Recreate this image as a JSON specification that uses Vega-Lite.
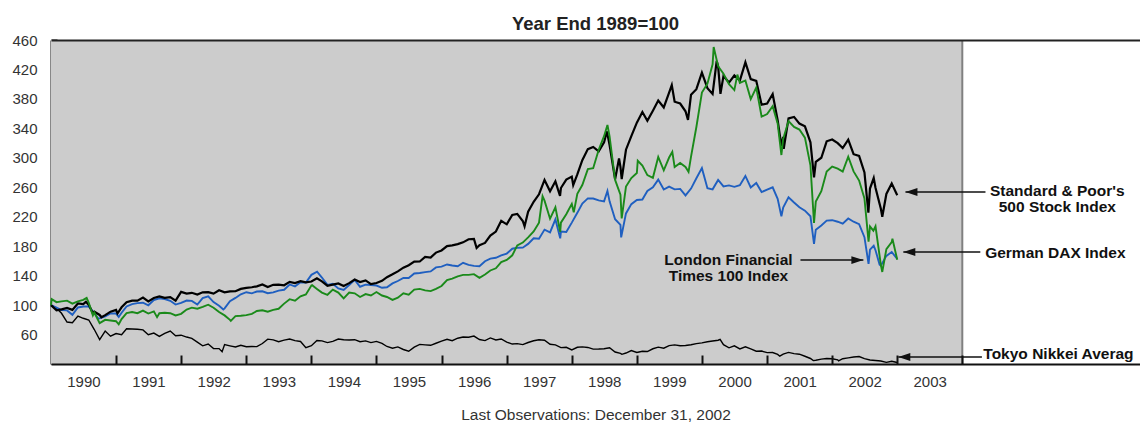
{
"$schema":"https://vega.github.io/schema/vega-lite/v6.json",
"width":1089,"height":324,
"autosize":{"type":"pad"},
"padding":{"left":11,"top":14,"right":0,"bottom":0},
"background":"white",
"title":{"text":"Year End 1989=100","fontSize":18.5,"fontWeight":"bold","color":"#222","anchor":"middle","offset":0,"font":"Liberation Sans"},
"config":{"view":{"stroke":null},"font":"Liberation Sans",
 "axisY":{"tickSize":-6,"tickWidth":2,"tickColor":"#111","domainColor":"#111","domainWidth":2,"labelFontSize":15,"labelColor":"#333","labelPadding":20,"grid":false,"labelFlush":false,"labelOverlap":false,"zindex":1}},
"datasets":{
"sp":[{"d":"1990-01-01","v":100},{"d":"1990-02-01","v":93.0},{"d":"1990-03-01","v":94.2},{"d":"1990-04-01","v":96.1},{"d":"1990-05-01","v":93.5},{"d":"1990-06-01","v":102.2},{"d":"1990-07-01","v":101.3},{"d":"1990-07-16","v":104.4},{"d":"1990-08-01","v":100.3},{"d":"1990-08-24","v":88.9},{"d":"1990-09-01","v":91.0},{"d":"1990-10-01","v":86.6},{"d":"1990-10-11","v":83.5},{"d":"1990-11-01","v":86.3},{"d":"1990-12-01","v":91.1},{"d":"1991-01-01","v":93.4},{"d":"1991-01-09","v":88.6},{"d":"1991-02-01","v":97.0},{"d":"1991-03-01","v":103.9},{"d":"1991-04-01","v":106.1},{"d":"1991-05-01","v":106.1},{"d":"1991-06-01","v":110.2},{"d":"1991-07-01","v":105.1},{"d":"1991-08-01","v":109.6},{"d":"1991-09-01","v":111.8},{"d":"1991-10-01","v":109.8},{"d":"1991-11-01","v":110.9},{"d":"1991-12-01","v":106.0},{"d":"1992-01-01","v":118.0},{"d":"1992-02-01","v":115.6},{"d":"1992-03-01","v":116.7},{"d":"1992-04-01","v":114.4},{"d":"1992-05-01","v":117.4},{"d":"1992-06-01","v":117.6},{"d":"1992-07-01","v":115.5},{"d":"1992-08-01","v":120.1},{"d":"1992-09-01","v":117.3},{"d":"1992-10-01","v":118.6},{"d":"1992-11-01","v":118.8},{"d":"1992-12-01","v":122.0},{"d":"1993-01-01","v":123.3},{"d":"1993-02-01","v":124.2},{"d":"1993-03-01","v":125.5},{"d":"1993-04-01","v":127.9},{"d":"1993-05-01","v":124.6},{"d":"1993-06-01","v":127.5},{"d":"1993-07-01","v":127.7},{"d":"1993-08-01","v":126.9},{"d":"1993-09-01","v":131.6},{"d":"1993-10-01","v":129.9},{"d":"1993-11-01","v":132.4},{"d":"1993-12-01","v":130.8},{"d":"1994-01-01","v":132.0},{"d":"1994-02-01","v":136.4},{"d":"1994-03-01","v":132.2},{"d":"1994-04-01","v":126.3},{"d":"1994-05-01","v":127.8},{"d":"1994-06-01","v":129.3},{"d":"1994-07-01","v":125.8},{"d":"1994-08-01","v":129.8},{"d":"1994-09-01","v":134.6},{"d":"1994-10-01","v":131.3},{"d":"1994-11-01","v":133.6},{"d":"1994-12-01","v":128.6},{"d":"1995-01-01","v":130.0},{"d":"1995-02-01","v":132.9},{"d":"1995-03-01","v":137.9},{"d":"1995-04-01","v":141.8},{"d":"1995-05-01","v":145.8},{"d":"1995-06-01","v":150.8},{"d":"1995-07-01","v":154.2},{"d":"1995-08-01","v":159.1},{"d":"1995-09-01","v":159.2},{"d":"1995-10-01","v":165.3},{"d":"1995-11-01","v":164.6},{"d":"1995-12-01","v":171.3},{"d":"1996-01-01","v":174.2},{"d":"1996-02-01","v":180.1},{"d":"1996-03-01","v":181.2},{"d":"1996-04-01","v":182.8},{"d":"1996-05-01","v":185.2},{"d":"1996-06-01","v":189.4},{"d":"1996-07-01","v":189.8},{"d":"1996-07-16","v":177.6},{"d":"1996-08-01","v":181.3},{"d":"1996-09-01","v":184.4},{"d":"1996-10-01","v":194.5},{"d":"1996-11-01","v":199.8},{"d":"1996-12-01","v":214.4},{"d":"1997-01-01","v":209.7},{"d":"1997-02-01","v":222.5},{"d":"1997-03-01","v":223.9},{"d":"1997-04-01","v":214.2},{"d":"1997-04-11","v":207},{"d":"1997-05-01","v":226.8},{"d":"1997-06-01","v":240.3},{"d":"1997-07-01","v":250.5},{"d":"1997-08-01","v":270.0},{"d":"1997-09-01","v":254.5},{"d":"1997-10-01","v":268.1},{"d":"1997-10-27","v":248.2},{"d":"1997-11-01","v":259.0},{"d":"1997-12-01","v":270.4},{"d":"1998-01-01","v":274.5},{"d":"1998-01-09","v":263},{"d":"1998-02-01","v":277.5},{"d":"1998-03-01","v":296.8},{"d":"1998-04-01","v":311.8},{"d":"1998-05-01","v":314.8},{"d":"1998-06-01","v":308.7},{"d":"1998-07-01","v":320.9},{"d":"1998-07-17","v":335.9},{"d":"1998-08-01","v":317.3},{"d":"1998-09-01","v":270.8},{"d":"1998-09-23","v":299},{"d":"1998-10-01","v":287.8},{"d":"1998-10-08","v":271.2},{"d":"1998-11-01","v":311.0},{"d":"1998-12-01","v":329.4},{"d":"1999-01-01","v":347.8},{"d":"1999-02-01","v":362.2},{"d":"1999-03-01","v":350.3},{"d":"1999-04-01","v":364.0},{"d":"1999-05-01","v":377.9},{"d":"1999-06-01","v":368.4},{"d":"1999-07-01","v":388.6},{"d":"1999-07-16","v":398.7},{"d":"1999-08-01","v":376.2},{"d":"1999-09-01","v":373.7},{"d":"1999-10-01","v":363.2},{"d":"1999-10-15","v":351.4},{"d":"1999-11-01","v":385.8},{"d":"1999-12-01","v":393.2},{"d":"2000-01-01","v":415.8},{"d":"2000-02-01","v":394.5},{"d":"2000-03-01","v":386.7},{"d":"2000-03-24","v":431.6},{"d":"2000-04-01","v":424.3},{"d":"2000-04-14","v":386.8},{"d":"2000-05-01","v":411.0},{"d":"2000-06-01","v":402.2},{"d":"2000-07-01","v":411.8},{"d":"2000-08-01","v":405.0},{"d":"2000-09-01","v":429.7},{"d":"2000-10-01","v":406.8},{"d":"2000-11-01","v":404.5},{"d":"2000-12-01","v":372.2},{"d":"2001-01-01","v":373.6},{"d":"2001-02-01","v":386.6},{"d":"2001-03-01","v":351.0},{"d":"2001-03-22","v":316.2},{"d":"2001-04-01","v":328.4},{"d":"2001-04-04","v":312.2},{"d":"2001-05-01","v":353.6},{"d":"2001-06-01","v":355.6},{"d":"2001-07-01","v":346.5},{"d":"2001-08-01","v":342.8},{"d":"2001-09-01","v":321.0},{"d":"2001-09-21","v":273.4},{"d":"2001-10-01","v":294.6},{"d":"2001-11-01","v":300.1},{"d":"2001-12-01","v":322.4},{"d":"2002-01-01","v":324.9},{"d":"2002-02-01","v":319.9},{"d":"2002-03-01","v":313.3},{"d":"2002-04-01","v":324.6},{"d":"2002-05-01","v":304.9},{"d":"2002-06-01","v":302.6},{"d":"2002-07-01","v":280.2},{"d":"2002-07-23","v":225.6},{"d":"2002-08-01","v":258.2},{"d":"2002-08-22","v":272.5},{"d":"2002-09-01","v":259.4},{"d":"2002-10-01","v":230.7},{"d":"2002-10-09","v":219.9},{"d":"2002-11-01","v":250.9},{"d":"2002-12-01","v":265.0},{"d":"2003-01-01","v":249.1}],
"dax":[{"d":"1990-01-01","v":100},{"d":"1990-01-05","v":108},{"d":"1990-02-01","v":104},{"d":"1990-03-01","v":105},{"d":"1990-04-01","v":106},{"d":"1990-05-01","v":102},{"d":"1990-06-01","v":105},{"d":"1990-07-01","v":107},{"d":"1990-07-20","v":109.8},{"d":"1990-08-01","v":103},{"d":"1990-08-24","v":86},{"d":"1990-09-01","v":90},{"d":"1990-10-01","v":75.5},{"d":"1990-11-01","v":80},{"d":"1990-12-01","v":79},{"d":"1991-01-01","v":78.1},{"d":"1991-01-16","v":73.9},{"d":"1991-02-01","v":81},{"d":"1991-03-01","v":89},{"d":"1991-04-01","v":90.5},{"d":"1991-05-01","v":89},{"d":"1991-06-01","v":92.5},{"d":"1991-07-01","v":88.5},{"d":"1991-08-01","v":91.5},{"d":"1991-08-19","v":83.6},{"d":"1991-09-01","v":89},{"d":"1991-10-01","v":89.5},{"d":"1991-11-01","v":89},{"d":"1991-12-01","v":86},{"d":"1992-01-01","v":88.1},{"d":"1992-02-01","v":94},{"d":"1992-03-01","v":96.5},{"d":"1992-04-01","v":95},{"d":"1992-05-01","v":97.5},{"d":"1992-06-01","v":100.5},{"d":"1992-07-01","v":96.5},{"d":"1992-08-01","v":90.5},{"d":"1992-09-01","v":86},{"d":"1992-10-01","v":80},{"d":"1992-10-06","v":78.5},{"d":"1992-11-01","v":85},{"d":"1992-12-01","v":85.5},{"d":"1993-01-01","v":86.3},{"d":"1993-02-01","v":88},{"d":"1993-03-01","v":92},{"d":"1993-04-01","v":93},{"d":"1993-05-01","v":91},{"d":"1993-06-01","v":93.5},{"d":"1993-07-01","v":95},{"d":"1993-08-01","v":102},{"d":"1993-09-01","v":108},{"d":"1993-10-01","v":106},{"d":"1993-11-01","v":112},{"d":"1993-12-01","v":114.5},{"d":"1994-01-01","v":126.6},{"d":"1994-01-05","v":127},{"d":"1994-02-01","v":122},{"d":"1994-03-01","v":117},{"d":"1994-04-01","v":114},{"d":"1994-05-01","v":121},{"d":"1994-06-01","v":117},{"d":"1994-07-01","v":109},{"d":"1994-08-01","v":117},{"d":"1994-09-01","v":116},{"d":"1994-10-01","v":111},{"d":"1994-11-01","v":115},{"d":"1994-12-01","v":113},{"d":"1995-01-01","v":117.7},{"d":"1995-02-01","v":113},{"d":"1995-03-01","v":111},{"d":"1995-04-01","v":107},{"d":"1995-05-01","v":110},{"d":"1995-06-01","v":116},{"d":"1995-07-01","v":114},{"d":"1995-08-01","v":121},{"d":"1995-09-01","v":122},{"d":"1995-10-01","v":120},{"d":"1995-11-01","v":119},{"d":"1995-12-01","v":122},{"d":"1996-01-01","v":125.9},{"d":"1996-02-01","v":134},{"d":"1996-03-01","v":136},{"d":"1996-04-01","v":139},{"d":"1996-05-01","v":141},{"d":"1996-06-01","v":141},{"d":"1996-07-01","v":142},{"d":"1996-08-01","v":137},{"d":"1996-09-01","v":141.5},{"d":"1996-10-01","v":147},{"d":"1996-11-01","v":150},{"d":"1996-12-01","v":158.5},{"d":"1997-01-01","v":161.3},{"d":"1997-02-01","v":167.6},{"d":"1997-03-01","v":181},{"d":"1997-04-01","v":184.9},{"d":"1997-05-01","v":192},{"d":"1997-06-01","v":200},{"d":"1997-07-01","v":212},{"d":"1997-07-21","v":247.8},{"d":"1997-08-01","v":241.9},{"d":"1997-09-01","v":217.3},{"d":"1997-10-01","v":232.8},{"d":"1997-10-28","v":199.2},{"d":"1997-11-01","v":212},{"d":"1997-12-01","v":223.5},{"d":"1998-01-01","v":237.4},{"d":"1998-01-12","v":226},{"d":"1998-02-01","v":251},{"d":"1998-03-01","v":263},{"d":"1998-04-01","v":284.7},{"d":"1998-05-01","v":285.8},{"d":"1998-06-01","v":311},{"d":"1998-07-01","v":329.4},{"d":"1998-07-20","v":344.7},{"d":"1998-08-01","v":329},{"d":"1998-09-01","v":270},{"d":"1998-10-01","v":249.9},{"d":"1998-10-08","v":217.6},{"d":"1998-11-01","v":260.9},{"d":"1998-12-01","v":272.6},{"d":"1999-01-01","v":279.4},{"d":"1999-01-06","v":296},{"d":"1999-02-01","v":289.5},{"d":"1999-03-01","v":276.5},{"d":"1999-04-01","v":272.8},{"d":"1999-05-01","v":301.2},{"d":"1999-06-01","v":283.1},{"d":"1999-07-01","v":300.4},{"d":"1999-07-19","v":308},{"d":"1999-08-01","v":287.5},{"d":"1999-09-01","v":292.9},{"d":"1999-10-01","v":287.6},{"d":"1999-10-18","v":281},{"d":"1999-11-01","v":301.5},{"d":"1999-12-01","v":341.9},{"d":"2000-01-01","v":388.6},{"d":"2000-02-01","v":400.6},{"d":"2000-03-01","v":427},{"d":"2000-03-07","v":450.5},{"d":"2000-04-01","v":424.4},{"d":"2000-05-01","v":414.1},{"d":"2000-06-01","v":400},{"d":"2000-07-01","v":392},{"d":"2000-07-18","v":413},{"d":"2000-08-01","v":401.7},{"d":"2000-09-01","v":405},{"d":"2000-10-01","v":379.7},{"d":"2000-11-01","v":395.3},{"d":"2000-12-01","v":355.9},{"d":"2001-01-01","v":359.4},{"d":"2001-02-01","v":370},{"d":"2001-03-01","v":346.7},{"d":"2001-03-22","v":303.8},{"d":"2001-04-01","v":325.6},{"d":"2001-05-01","v":350},{"d":"2001-06-01","v":342},{"d":"2001-07-01","v":338.4},{"d":"2001-08-01","v":327.4},{"d":"2001-09-01","v":289.8},{"d":"2001-09-21","v":211.5},{"d":"2001-10-01","v":240.6},{"d":"2001-11-01","v":254.6},{"d":"2001-12-01","v":281.5},{"d":"2002-01-01","v":288.2},{"d":"2002-02-01","v":285.3},{"d":"2002-03-01","v":281.4},{"d":"2002-04-01","v":301.5},{"d":"2002-05-01","v":281.6},{"d":"2002-06-01","v":269.1},{"d":"2002-07-01","v":244.8},{"d":"2002-07-24","v":186},{"d":"2002-08-01","v":206.7},{"d":"2002-08-20","v":201},{"d":"2002-09-01","v":207},{"d":"2002-10-01","v":154.7},{"d":"2002-10-09","v":145},{"d":"2002-11-01","v":176},{"d":"2002-12-01","v":185.4},{"d":"2002-12-05","v":190},{"d":"2003-01-01","v":161.6}],
"ftse":[{"d":"1990-01-01","v":100},{"d":"1990-02-01","v":96.5},{"d":"1990-03-01","v":93.1},{"d":"1990-04-01","v":92.8},{"d":"1990-05-01","v":86.8},{"d":"1990-06-01","v":96.8},{"d":"1990-07-01","v":98.0},{"d":"1990-08-01","v":98.0},{"d":"1990-09-01","v":89.3},{"d":"1990-09-24","v":81.5},{"d":"1990-10-01","v":82.1},{"d":"1990-11-01","v":84.6},{"d":"1990-12-01","v":88.7},{"d":"1991-01-01","v":88.5},{"d":"1991-01-16","v":83.9},{"d":"1991-02-01","v":89.6},{"d":"1991-03-01","v":98.2},{"d":"1991-04-01","v":101.4},{"d":"1991-05-01","v":102.6},{"d":"1991-06-01","v":103.2},{"d":"1991-07-01","v":99.7},{"d":"1991-08-01","v":106.8},{"d":"1991-09-01","v":109.2},{"d":"1991-10-01","v":108.2},{"d":"1991-11-01","v":105.9},{"d":"1991-12-01","v":100.7},{"d":"1992-01-01","v":102.9},{"d":"1992-02-01","v":106.2},{"d":"1992-03-01","v":105.7},{"d":"1992-04-01","v":100.7},{"d":"1992-05-01","v":109.5},{"d":"1992-06-01","v":111.8},{"d":"1992-07-01","v":104.1},{"d":"1992-08-01","v":99.1},{"d":"1992-08-25","v":94.1},{"d":"1992-09-01","v":95.5},{"d":"1992-10-01","v":105.4},{"d":"1992-11-01","v":109.7},{"d":"1992-12-01","v":114.7},{"d":"1993-01-01","v":117.5},{"d":"1993-02-01","v":115.9},{"d":"1993-03-01","v":118.4},{"d":"1993-04-01","v":118.8},{"d":"1993-05-01","v":116.1},{"d":"1993-06-01","v":117.2},{"d":"1993-07-01","v":119.7},{"d":"1993-08-01","v":120.8},{"d":"1993-09-01","v":128.0},{"d":"1993-10-01","v":125.4},{"d":"1993-11-01","v":130.9},{"d":"1993-12-01","v":130.7},{"d":"1994-01-01","v":141.1},{"d":"1994-02-02","v":145.3},{"d":"1994-03-01","v":137.4},{"d":"1994-04-01","v":127.4},{"d":"1994-05-01","v":129.0},{"d":"1994-06-01","v":122.6},{"d":"1994-07-01","v":120.5},{"d":"1994-08-01","v":127.2},{"d":"1994-09-01","v":134.2},{"d":"1994-10-01","v":124.9},{"d":"1994-11-01","v":127.8},{"d":"1994-12-01","v":127.2},{"d":"1995-01-01","v":126.6},{"d":"1995-02-01","v":123.5},{"d":"1995-03-01","v":124.2},{"d":"1995-04-01","v":129.5},{"d":"1995-05-01","v":132.7},{"d":"1995-06-01","v":137.0},{"d":"1995-07-01","v":136.8},{"d":"1995-08-01","v":142.9},{"d":"1995-09-01","v":143.5},{"d":"1995-10-01","v":144.8},{"d":"1995-11-01","v":145.7},{"d":"1995-12-01","v":151.2},{"d":"1996-01-01","v":152.3},{"d":"1996-02-01","v":155.2},{"d":"1996-03-01","v":153.8},{"d":"1996-04-01","v":152.7},{"d":"1996-05-01","v":157.5},{"d":"1996-06-01","v":154.7},{"d":"1996-07-01","v":153.2},{"d":"1996-08-01","v":152.8},{"d":"1996-09-01","v":159.6},{"d":"1996-10-01","v":163.2},{"d":"1996-11-01","v":164.2},{"d":"1996-12-01","v":167.5},{"d":"1997-01-01","v":170.0},{"d":"1997-02-01","v":176.5},{"d":"1997-03-01","v":177.8},{"d":"1997-04-01","v":178.0},{"d":"1997-05-01","v":183.1},{"d":"1997-06-01","v":190.7},{"d":"1997-07-01","v":190.0},{"d":"1997-08-01","v":202.5},{"d":"1997-09-01","v":198.8},{"d":"1997-10-01","v":216.5},{"d":"1997-10-28","v":190.6},{"d":"1997-11-01","v":199.9},{"d":"1997-12-01","v":199.4},{"d":"1998-01-01","v":212.0},{"d":"1998-02-01","v":225.3},{"d":"1998-03-01","v":238.0},{"d":"1998-04-01","v":244.9},{"d":"1998-05-01","v":244.7},{"d":"1998-06-01","v":242.3},{"d":"1998-07-01","v":240.8},{"d":"1998-07-20","v":255.0},{"d":"1998-08-01","v":240.9},{"d":"1998-09-01","v":216.7},{"d":"1998-10-01","v":209.0},{"d":"1998-10-05","v":191.9},{"d":"1998-11-01","v":224.5},{"d":"1998-12-01","v":237.1},{"d":"1999-01-01","v":242.8},{"d":"1999-02-01","v":243.4},{"d":"1999-03-01","v":254.9},{"d":"1999-04-01","v":259.9},{"d":"1999-05-01","v":270.4},{"d":"1999-06-01","v":257.0},{"d":"1999-07-01","v":260.8},{"d":"1999-08-01","v":257.2},{"d":"1999-09-01","v":257.8},{"d":"1999-10-01","v":248.9},{"d":"1999-11-01","v":258.2},{"d":"1999-12-01","v":272.3},{"d":"2000-01-01","v":286.0},{"d":"2000-02-01","v":258.7},{"d":"2000-03-01","v":257.2},{"d":"2000-04-01","v":269.9},{"d":"2000-05-01","v":261.1},{"d":"2000-06-01","v":262.5},{"d":"2000-07-01","v":260.6},{"d":"2000-08-01","v":262.7},{"d":"2000-09-01","v":275.4},{"d":"2000-10-01","v":259.8},{"d":"2000-11-01","v":265.8},{"d":"2000-12-01","v":253.5},{"d":"2001-01-01","v":256.8},{"d":"2001-02-01","v":259.9},{"d":"2001-03-01","v":244.3},{"d":"2001-03-22","v":220.6},{"d":"2001-04-01","v":232.6},{"d":"2001-05-01","v":246.3},{"d":"2001-06-01","v":239.3},{"d":"2001-07-01","v":232.9},{"d":"2001-08-01","v":228.2},{"d":"2001-09-01","v":220.6},{"d":"2001-09-21","v":183.0},{"d":"2001-10-01","v":202.4},{"d":"2001-11-01","v":208.1},{"d":"2001-12-01","v":214.8},{"d":"2002-01-01","v":215.3},{"d":"2002-02-01","v":213.2},{"d":"2002-03-01","v":210.5},{"d":"2002-04-01","v":217.6},{"d":"2002-05-01","v":213.2},{"d":"2002-06-01","v":209.9},{"d":"2002-07-01","v":192.2},{"d":"2002-07-24","v":155.9},{"d":"2002-08-01","v":175.3},{"d":"2002-08-22","v":180.5},{"d":"2002-09-01","v":174.5},{"d":"2002-09-24","v":155},{"d":"2002-10-01","v":153.6},{"d":"2002-11-01","v":166.8},{"d":"2002-12-01","v":172.1},{"d":"2003-01-01","v":162.6}],
"nk":[{"d":"1990-01-01","v":100},{"d":"1990-02-01","v":95.6},{"d":"1990-03-01","v":88.9},{"d":"1990-04-01","v":77.0},{"d":"1990-05-01","v":76.0},{"d":"1990-06-01","v":85.1},{"d":"1990-07-01","v":82.1},{"d":"1990-08-01","v":79.8},{"d":"1990-09-01","v":66.8},{"d":"1990-10-01","v":53.0},{"d":"1990-11-01","v":64.7},{"d":"1990-12-01","v":57.7},{"d":"1991-01-01","v":61.3},{"d":"1991-02-01","v":59.9},{"d":"1991-03-01","v":67.9},{"d":"1991-04-01","v":67.6},{"d":"1991-05-01","v":67.1},{"d":"1991-06-01","v":66.3},{"d":"1991-07-01","v":59.8},{"d":"1991-08-01","v":62.0},{"d":"1991-09-01","v":57.4},{"d":"1991-10-01","v":61.5},{"d":"1991-11-01","v":64.8},{"d":"1991-12-01","v":58.3},{"d":"1992-01-01","v":59.1},{"d":"1992-02-01","v":56.6},{"d":"1992-03-01","v":54.8},{"d":"1992-04-01","v":49.7},{"d":"1992-05-01","v":44.7},{"d":"1992-06-01","v":47.1},{"d":"1992-07-01","v":41.0},{"d":"1992-08-01","v":40.9},{"d":"1992-08-18","v":36.8},{"d":"1992-09-01","v":46.4},{"d":"1992-10-01","v":44.7},{"d":"1992-11-01","v":43.1},{"d":"1992-12-01","v":45.4},{"d":"1993-01-01","v":43.5},{"d":"1993-02-01","v":43.7},{"d":"1993-03-01","v":43.6},{"d":"1993-04-01","v":47.8},{"d":"1993-05-01","v":53.8},{"d":"1993-06-01","v":52.8},{"d":"1993-07-01","v":50.3},{"d":"1993-08-01","v":52.4},{"d":"1993-09-01","v":54.0},{"d":"1993-10-01","v":51.7},{"d":"1993-11-01","v":50.6},{"d":"1993-12-01","v":42.2},{"d":"1994-01-01","v":44.8},{"d":"1994-02-01","v":52.0},{"d":"1994-03-01","v":51.4},{"d":"1994-04-01","v":49.1},{"d":"1994-05-01","v":50.7},{"d":"1994-06-01","v":53.9},{"d":"1994-07-01","v":53.0},{"d":"1994-08-01","v":52.6},{"d":"1994-09-01","v":53.0},{"d":"1994-10-01","v":50.3},{"d":"1994-11-01","v":51.4},{"d":"1994-12-01","v":49.0},{"d":"1995-01-01","v":50.7},{"d":"1995-02-01","v":47.9},{"d":"1995-03-01","v":43.8},{"d":"1995-04-01","v":41.5},{"d":"1995-05-01","v":43.2},{"d":"1995-06-01","v":39.7},{"d":"1995-07-01","v":37.3},{"d":"1995-08-01","v":42.9},{"d":"1995-09-01","v":46.6},{"d":"1995-10-01","v":46.0},{"d":"1995-11-01","v":45.4},{"d":"1995-12-01","v":48.2},{"d":"1996-01-01","v":51.0},{"d":"1996-02-01","v":53.5},{"d":"1996-03-01","v":51.7},{"d":"1996-04-01","v":55.0},{"d":"1996-05-01","v":56.6},{"d":"1996-06-01","v":56.4},{"d":"1996-07-01","v":57.9},{"d":"1996-08-01","v":53.2},{"d":"1996-09-01","v":51.8},{"d":"1996-10-01","v":55.4},{"d":"1996-11-01","v":52.6},{"d":"1996-12-01","v":54.0},{"d":"1997-01-01","v":49.8},{"d":"1997-02-01","v":47.1},{"d":"1997-03-01","v":47.7},{"d":"1997-04-01","v":46.3},{"d":"1997-05-01","v":49.2},{"d":"1997-06-01","v":51.6},{"d":"1997-07-01","v":52.9},{"d":"1997-08-01","v":52.2},{"d":"1997-09-01","v":46.8},{"d":"1997-10-01","v":46.0},{"d":"1997-11-01","v":42.3},{"d":"1997-12-01","v":42.7},{"d":"1998-01-01","v":39.2},{"d":"1998-02-01","v":42.7},{"d":"1998-03-01","v":43.3},{"d":"1998-04-01","v":42.5},{"d":"1998-05-01","v":40.2},{"d":"1998-06-01","v":40.3},{"d":"1998-07-01","v":40.7},{"d":"1998-08-01","v":42.1},{"d":"1998-09-01","v":36.3},{"d":"1998-10-01","v":34.4},{"d":"1998-10-09","v":33.1},{"d":"1998-11-01","v":34.9},{"d":"1998-12-01","v":38.2},{"d":"1999-01-01","v":35.6},{"d":"1999-02-01","v":37.3},{"d":"1999-03-01","v":36.9},{"d":"1999-04-01","v":40.7},{"d":"1999-05-01","v":42.9},{"d":"1999-06-01","v":41.4},{"d":"1999-07-01","v":45.0},{"d":"1999-08-01","v":45.9},{"d":"1999-09-01","v":44.8},{"d":"1999-10-01","v":45.2},{"d":"1999-11-01","v":46.1},{"d":"1999-12-01","v":47.7},{"d":"2000-01-01","v":48.7},{"d":"2000-02-01","v":50.2},{"d":"2000-03-01","v":51.3},{"d":"2000-04-01","v":52.3},{"d":"2000-04-12","v":53.5},{"d":"2000-05-01","v":46.2},{"d":"2000-06-01","v":42.0},{"d":"2000-07-01","v":44.7},{"d":"2000-08-01","v":40.4},{"d":"2000-09-01","v":43.3},{"d":"2000-10-01","v":40.5},{"d":"2000-11-01","v":37.4},{"d":"2000-12-01","v":37.6},{"d":"2001-01-01","v":35.4},{"d":"2001-02-01","v":35.6},{"d":"2001-03-01","v":33.1},{"d":"2001-03-13","v":30.6},{"d":"2001-04-01","v":33.4},{"d":"2001-05-01","v":35.8},{"d":"2001-06-01","v":34.1},{"d":"2001-07-01","v":33.3},{"d":"2001-08-01","v":30.5},{"d":"2001-09-01","v":27.5},{"d":"2001-09-17","v":24.6},{"d":"2001-10-01","v":25.1},{"d":"2001-11-01","v":26.6},{"d":"2001-12-01","v":27.5},{"d":"2002-01-01","v":27.1},{"d":"2002-02-01","v":25.7},{"d":"2002-02-06","v":24.2},{"d":"2002-03-01","v":27.2},{"d":"2002-04-01","v":28.3},{"d":"2002-05-01","v":29.5},{"d":"2002-06-01","v":30.2},{"d":"2002-07-01","v":27.3},{"d":"2002-08-01","v":25.4},{"d":"2002-09-01","v":24.7},{"d":"2002-10-01","v":24.1},{"d":"2002-11-01","v":22.2},{"d":"2002-12-01","v":23.7},{"d":"2003-01-01","v":22.0}],
"arrows":[{"t1":"2004-05-10","t2":"2003-02-16","v":253.6,"dir":"l"},{"t1":"2004-04-11","t2":"2003-02-04","v":172.1,"dir":"l"},{"t1":"2004-04-20","t2":"2003-01-07","v":29.5,"dir":"l"},{"t1":"2001-07-07","t2":"2002-06-25","v":161.2,"dir":"r"}],
"notes_c":[{"t":"2005-06-17","v":255.6,"txt":"Standard & Poor's\n500 Stock Index"},{"t":"2005-06-06","v":170.8,"txt":"German DAX Index"},{"t":"2000-05-29","v":161.2,"txt":"London Financial\nTimes 100 Index"}],
"notes_l":[{"t":"2004-04-28","v":33.6,"txt":"Tokyo Nikkei Average"}]
},
"layer":[
{"data":{"values":[{}]},"mark":{"type":"rect","color":"#cccccc"},
 "encoding":{
  "x":{"datum":{"year":1990,"month":1,"date":1,"utc":true},"type":"temporal",
   "scale":{"type":"utc","domain":[{"year":1990,"month":1,"date":1,"utc":true},{"year":2006,"month":9,"date":24,"utc":true}]},
   "axis":{"orient":"top","labels":false,"ticks":false,"grid":false,"title":null,"domainWidth":2,"domainColor":"#222","zindex":1}},
  "x2":{"datum":{"year":2004,"month":1,"date":1,"utc":true}},
  "y":{"datum":20,"type":"quantitative","scale":{"domain":[20,460],"nice":false,"zero":false},"title":null,"axis":{"values":[60,100,140,180,220,260,300,340,380,420,460],"title":null}},
  "y2":{"datum":460}}},
{"data":{"values":[{}]},"mark":{"type":"rule","color":"#808080","strokeWidth":2},
 "encoding":{"x":{"datum":{"year":2004,"month":1,"date":1,"utc":true},"type":"temporal","axis":null},"y":{"datum":20,"type":"quantitative","title":null,"axis":{"values":[60,100,140,180,220,260,300,340,380,420,460],"title":null}},"y2":{"datum":460}}},
{"data":{"name":"nk"},"mark":{"type":"line","color":"#000000","strokeWidth":1.4},
 "encoding":{"x":{"field":"d","type":"temporal","axis":null},"y":{"field":"v","type":"quantitative","title":null,"axis":{"values":[60,100,140,180,220,260,300,340,380,420,460],"title":null}}}},
{"data":{"name":"ftse"},"mark":{"type":"line","color":"#1f5fc0","strokeWidth":1.9},
 "encoding":{"x":{"field":"d","type":"temporal","axis":null},"y":{"field":"v","type":"quantitative","title":null,"axis":{"values":[60,100,140,180,220,260,300,340,380,420,460],"title":null}}}},
{"data":{"name":"sp"},"mark":{"type":"line","color":"#000000","strokeWidth":2.2},
 "encoding":{"x":{"field":"d","type":"temporal",
   "axis":{"orient":"bottom","values":[{"year":1991,"month":1,"date":1,"utc":true},{"year":1992,"month":1,"date":1,"utc":true},{"year":1993,"month":1,"date":1,"utc":true},{"year":1994,"month":1,"date":1,"utc":true},{"year":1995,"month":1,"date":1,"utc":true},{"year":1996,"month":1,"date":1,"utc":true},{"year":1997,"month":1,"date":1,"utc":true},{"year":1998,"month":1,"date":1,"utc":true},{"year":1999,"month":1,"date":1,"utc":true},{"year":2000,"month":1,"date":1,"utc":true},{"year":2001,"month":1,"date":1,"utc":true},{"year":2002,"month":1,"date":1,"utc":true},{"year":2003,"month":1,"date":1,"utc":true},{"year":2004,"month":1,"date":1,"utc":true}],
   "labelExpr":"utcFormat(datum.value - 86400000, '%Y')","labelOffset":-32.6,"tickSize":-9,"tickWidth":2,"tickColor":"#111","domainColor":"#111","domainWidth":2,"labelFontSize":15,"labelColor":"#333","labelPadding":19,"labelFlush":false,"labelOverlap":false,"labelBound":false,"grid":false,"zindex":1,
   "title":"Last Observations: December 31, 2002","titleFontSize":15.5,"titleFontWeight":"normal","titleColor":"#333","titlePadding":18}},
  "y":{"field":"v","type":"quantitative","title":null,"axis":{"values":[60,100,140,180,220,260,300,340,380,420,460],"title":null}}}},
{"data":{"name":"dax"},"mark":{"type":"line","color":"#1a8a1a","strokeWidth":1.9},
 "encoding":{"x":{"field":"d","type":"temporal","axis":null},"y":{"field":"v","type":"quantitative","title":null,"axis":{"values":[60,100,140,180,220,260,300,340,380,420,460],"title":null}}}},
{"data":{"name":"arrows"},"mark":{"type":"rule","color":"#111","strokeWidth":1.6},
 "encoding":{"x":{"field":"t1","type":"temporal","axis":null},"x2":{"field":"t2"},"y":{"field":"v","type":"quantitative","title":null,"axis":{"values":[60,100,140,180,220,260,300,340,380,420,460],"title":null}}}},
{"data":{"name":"arrows"},"mark":{"type":"point","filled":true,"color":"#111","opacity":1,"size":144,"strokeWidth":0},
 "encoding":{"x":{"field":"t2","type":"temporal","axis":null},"y":{"field":"v","type":"quantitative","title":null,"axis":{"values":[60,100,140,180,220,260,300,340,380,420,460],"title":null}},
  "shape":{"field":"dir","type":"nominal","scale":{"domain":["l","r"],"range":["M0,0L2,-0.65L2,0.65Z","M0,0L-2,-0.65L-2,0.65Z"]},"legend":null}}},
{"data":{"name":"notes_c"},"mark":{"type":"text","align":"center","baseline":"middle","fontSize":15.5,"fontWeight":"bold","color":"#111","lineBreak":"\n","lineHeight":16},
 "encoding":{"x":{"field":"t","type":"temporal","axis":null},"y":{"field":"v","type":"quantitative","title":null,"axis":{"values":[60,100,140,180,220,260,300,340,380,420,460],"title":null}},"text":{"field":"txt"}}},
{"data":{"name":"notes_l"},"mark":{"type":"text","align":"left","baseline":"middle","fontSize":15.5,"fontWeight":"bold","color":"#111","limit":156,"ellipsis":"\u200b"},
 "encoding":{"x":{"field":"t","type":"temporal","axis":null},"y":{"field":"v","type":"quantitative","title":null,"axis":{"values":[60,100,140,180,220,260,300,340,380,420,460],"title":null}},"text":{"field":"txt"}}}
]
}
